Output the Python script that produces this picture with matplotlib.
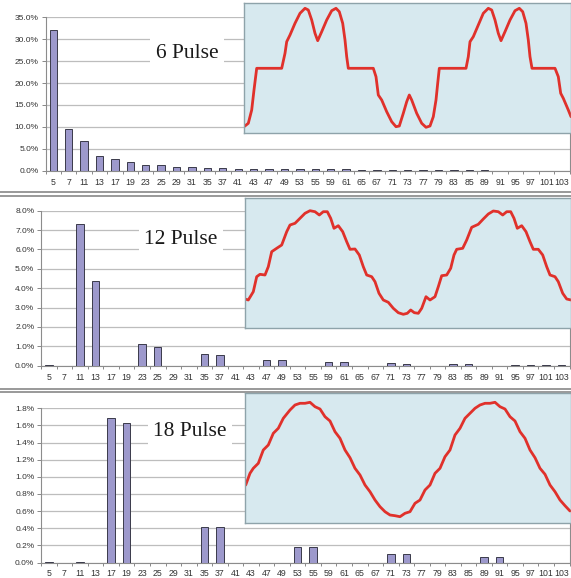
import matplotlib
matplotlib.use("Agg")
import matplotlib.pyplot as plt
from matplotlib.lines import Line2D
import numpy as np

# ---------------- data ----------------
harmonics = ["5", "7", "11", "13", "17", "19", "23", "25", "29", "31", "35", "37",
             "41", "43", "47", "49", "53", "55", "59", "61", "65", "67", "71", "73",
             "77", "79", "83", "85", "89", "91", "95", "97", "101", "103"]

pulse6 = [32.2, 9.5, 6.7, 3.4, 2.6, 2.0, 1.2, 1.2, 0.8, 0.8, 0.55, 0.55,
          0.5, 0.4, 0.4, 0.4, 0.35, 0.3, 0.3, 0.3, 0.25, 0.25, 0.25, 0.25,
          0.2, 0.2, 0.2, 0.2, 0.2, 0.0, 0.0, 0.0, 0.0, 0.0]

pulse12 = [0.05, 0.0, 7.3, 4.35, 0.0, 0.0, 1.12, 0.98, 0.0, 0.0, 0.6, 0.55,
           0.0, 0.0, 0.31, 0.27, 0.0, 0.0, 0.2, 0.2, 0.0, 0.0, 0.12, 0.1,
           0.0, 0.0, 0.1, 0.1, 0.0, 0.0, 0.06, 0.06, 0.06, 0.06]

pulse18 = [0.01, 0.0, 0.01, 0.0, 1.69, 1.63, 0.0, 0.0, 0.0, 0.0, 0.42, 0.41,
           0.0, 0.0, 0.0, 0.0, 0.18, 0.18, 0.0, 0.0, 0.0, 0.0, 0.1, 0.1,
           0.0, 0.0, 0.0, 0.0, 0.06, 0.06, 0.0, 0.0, 0.0, 0.0]

titles = ["6 Pulse", "12 Pulse", "18 Pulse"]
y_max = [35, 8, 1.8]
y_step = [5, 1, 0.2]

# waveform samples (time units, amplitude units)
wave6_t = [0, 4.3, 7.7, 10, 12.7, 37.7, 41, 42.7, 46, 51, 56, 61, 64.3, 67.7, 71, 73.7,
           77.7, 82.7, 87.7, 92, 95.3, 98.7, 101, 102.7, 104.3, 129.3, 132, 134.3, 137.7,
           142.7, 147.7, 152, 155.3, 159.3, 162.7, 165.3, 167.7, 172.7, 177.7, 182, 186,
           189.3, 192, 193.7, 195.3, 222, 224.3, 226, 229.3, 234.3, 239.3, 244.3, 247.7,
           251, 254.3, 257, 261, 266, 271, 275.3, 278.7, 282, 284.3, 286, 288, 311, 314.3,
           316.7, 319.3, 324.3, 327]
wave6_v = [6.3, 9.7, 23, 43, 64.7, 64.7, 79.7, 91.3, 98, 109.7, 119.7, 124.7, 123, 113,
           99.7, 92.3, 101.3, 113, 122.3, 124.7, 121.3, 109.7, 93, 76.3, 64.7, 64.7, 56.3,
           38, 33, 21.3, 11.3, 6.3, 7, 19.7, 31.3, 38, 33, 19.7, 9.7, 5.7, 7, 16.3, 33,
           49.7, 64.7, 64.7, 76.3, 91.3, 96.3, 108, 119.7, 124.7, 123, 113, 99.7, 92.3,
           101.3, 113, 122.3, 124.7, 121.3, 109.7, 93, 76.3, 64.7, 64.7, 56.3, 39.7, 34.7,
           23, 16.3]

wave12_px = [245, 248.3, 253.3, 256.7, 260, 265, 268.3, 271.7, 276.7, 281.7, 286.7, 290,
             295, 300, 305, 310, 315, 319.3, 323.3, 327.3, 330.7, 334, 338.3, 342.7, 346.7,
             350, 355, 359.3, 363.3, 366.7, 371.7, 375, 379, 383.3, 388.3, 393.3, 398.3,
             403.3, 407.3, 410.7, 414.3, 418.3, 421.7, 426, 430, 435, 438.3, 441.7, 446.7,
             450.7, 454, 456.7, 462.7, 466.7, 471.7, 478.3, 483.3, 488.3, 493.3, 498.3,
             502.7, 506.7, 510.7, 514, 517.3, 521.7, 526, 530, 533.3, 538.3, 542.7, 546.7,
             550, 555, 558.3, 562.7, 566.7, 571]
wave12_py = [299, 300, 291.7, 276.7, 274.3, 275, 266.7, 251.7, 248.3, 245, 231.7, 225,
             223.3, 218.3, 213.3, 210.7, 211.7, 215, 211.7, 211.7, 218.3, 228.3, 225.7,
             231.7, 241.7, 249.3, 249, 255, 266.7, 275, 276.7, 281.7, 293.3, 300, 302.3,
             308.3, 312.7, 314.3, 313.3, 310, 312.7, 313.3, 308.3, 296.7, 300, 296.7, 286.7,
             275.7, 275, 268.3, 255, 249.3, 248.3, 240, 227.3, 224.3, 219, 214, 211, 211.7,
             215, 211.7, 211.7, 218.3, 228.3, 225.7, 231.7, 241.7, 249.3, 249.3, 255, 266.7,
             275, 276.7, 281.7, 293.3, 299, 300]

wave18_px = [245.7, 250, 253.3, 258.3, 263.3, 268.3, 273.3, 278.3, 283.3, 290, 295, 300,
             305, 310, 315, 320, 325, 330, 335, 340, 345, 350, 355, 360, 365, 370, 375,
             380, 385, 390, 395, 400, 405, 410, 415, 420, 425, 430, 435, 440, 445, 450,
             455, 460, 465, 470, 475, 480, 485, 490, 495, 500, 505, 510, 515, 520, 525,
             530, 535, 540, 545, 550, 555, 560, 565, 570]
wave18_py = [485, 473.3, 468.3, 463.3, 450, 445, 433.3, 428.3, 418.3, 410, 405, 403.3,
             403.3, 402.3, 406.7, 409, 416.7, 421, 431.7, 438.3, 450, 457.7, 468.3, 475,
             485, 491.7, 500, 506.7, 511.7, 515, 515.7, 516.7, 513.3, 511.7, 503.3, 500,
             490, 485, 473.3, 468.3, 456.7, 450, 435, 428.3, 418.3, 413.3, 408.3, 405,
             403.3, 403.3, 402.3, 406.7, 409, 416.7, 421, 431.7, 438.3, 450, 457.7, 468.3,
             474.3, 485, 491.7, 500, 505.7, 511]

# ---------------- layout ----------------
W, H = 571, 578
fig = plt.figure(figsize=(W / 100, H / 100), dpi=100)
fig.patch.set_facecolor("white")


def rect(l, t, r, b):
    return [l / W, 1 - b / H, (r - l) / W, (b - t) / H]


bar_rects = [rect(45.6, 17.3, 569.5, 170.7),
             rect(41.2, 210.7, 569.5, 365.7),
             rect(41.2, 408.3, 569.5, 562.5)]
inset_rects = [rect(244, 3, 571, 133),
               rect(245, 198, 571, 328),
               rect(245, 393, 571, 523)]
title_pos = [(187, 53), (181, 240), (190, 432)]

sans = ["Liberation Sans", "DejaVu Sans"]
serif = ["Liberation Serif", "DejaVu Serif"]

series = [pulse6, pulse12, pulse18]
x = np.arange(len(harmonics))
bar_color = "#9d99cc"
grid_color = "#bdbdbd"

for i in range(3):
    ax = fig.add_axes(bar_rects[i])
    ax.set_facecolor("white")
    ax.bar(x, series[i], width=0.48, color=bar_color, edgecolor="#3a3a4a",
           linewidth=0.7, zorder=3)
    ax.set_xlim(-0.5, len(harmonics) - 0.5)
    ax.set_ylim(0, y_max[i])
    yt = np.arange(0, y_max[i] + y_step[i] / 2, y_step[i])
    ax.set_yticks(yt)
    ax.set_yticklabels([f"{v:.1f}%" for v in yt], fontsize=6, family=sans,
                       color="#333333")
    ax.yaxis.grid(True, color=grid_color, linewidth=0.9, zorder=0)
    ax.set_xticks(x)
    ax.set_xticklabels(harmonics, fontsize=6.3, family=sans, color="#333333")
    ax.set_xticks(np.arange(-0.5, len(harmonics), 1.0), minor=True)
    ax.tick_params(axis="x", which="major", length=0, pad=5)
    ax.tick_params(axis="x", which="minor", length=2.5, color="#888888", width=0.7)
    ax.tick_params(axis="y", length=3, color="#888888", width=0.7, pad=2)
    ax.spines["top"].set_visible(False)
    for s in ["left", "bottom", "right"]:
        ax.spines[s].set_color("#8c8c8c")
        ax.spines[s].set_linewidth(0.8)

    fig.text(title_pos[i][0] / W, 1 - title_pos[i][1] / H, titles[i],
             family=serif, fontsize=15.5, ha="center", va="center", color="#1a1a1a",
             bbox=dict(facecolor="white", edgecolor="none", pad=4), zorder=5)

# insets with waveforms
inset_bg = "#d7e9ef"
waves = [
    (wave6_t, wave6_v, (0, 327), (0, 130)),
    ([p - 245 for p in wave12_px], [328 - p for p in wave12_py], (0, 326), (0, 130)),
    ([p - 245 for p in wave18_px], [523 - p for p in wave18_py], (0, 326), (0, 130)),
]
for i in range(3):
    ia = fig.add_axes(inset_rects[i], zorder=10)
    ia.set_facecolor(inset_bg)
    t, v, xl, yl = waves[i]
    ia.plot(t, v, color="#e0312b", linewidth=2.0, solid_joinstyle="round",
            solid_capstyle="round")
    ia.set_xlim(*xl)
    ia.set_ylim(*yl)
    ia.set_xticks([])
    ia.set_yticks([])
    for s in ia.spines.values():
        s.set_color("#8ea3aa")
        s.set_linewidth(1.0)

# separators between panels (double gray lines)
for yy in [192.5, 195.5, 388.5, 391.5]:
    fig.add_artist(Line2D([0, 1], [1 - yy / H, 1 - yy / H], color="#7d7d7d",
                          linewidth=1.1, transform=fig.transFigure, zorder=1))

fig.savefig("out.png", dpi=100, facecolor="white")
